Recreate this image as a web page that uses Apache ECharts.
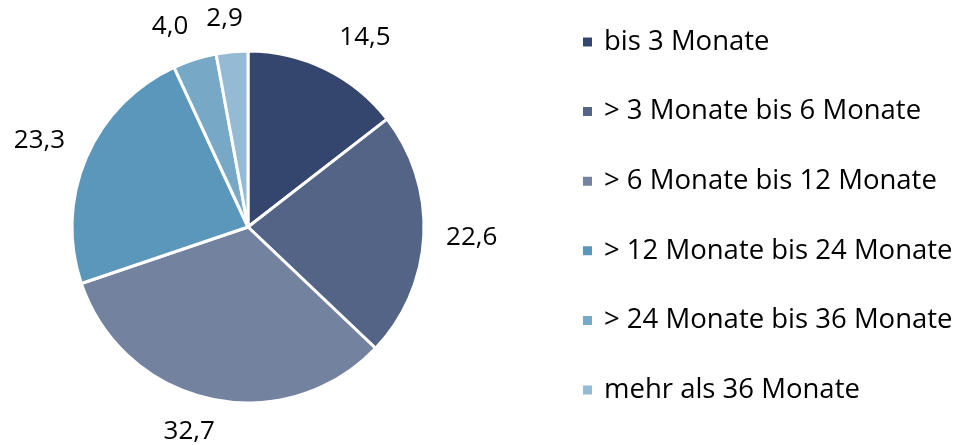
<!DOCTYPE html>
<html>
<head>
    <meta charset="UTF-8">
    <title>pie</title>
    <script src="https://cdn.jsdelivr.net/npm/echarts@6/dist/echarts.min.js"></script>
    <style>
        *{margin:0;padding:0}
        html,body{width:100%;height:100%;background:#fff}
        #main{width:972px;height:445px}
    </style>
</head>
<body>
    <div id="main"></div>
    <script type="text/javascript">
        var categories = ['bis 3 Monate', '> 3 Monate bis 6 Monate', '> 6 Monate bis 12 Monate',
            '> 12 Monate bis 24 Monate', '> 24 Monate bis 36 Monate', 'mehr als 36 Monate'];
        var values = [14.5, 22.6, 32.7, 23.3, 4.0, 2.9];
        var colors = ['#34466e', '#536487', '#73839f', '#5b97ba', '#77a8c6', '#94bbd3'];

        var dataList = categories.map(function (name, i) {
            return {name: name, value: values[i], itemStyle: {color: colors[i]}};
        });

        var cx = 248, cy = 227, r = 176;
        var total = values.reduce(function (a, b) { return a + b; }, 0);

        // Excel-artige Platzierung: Label ausserhalb, Box-Ecke am Kreis
        function placeLabel(params) {
            var before = 0;
            for (var i = 0; i < params.dataIndex; i++) before += values[i];
            var mid = (before + values[params.dataIndex] / 2) / total * Math.PI * 2;
            var dx = Math.sin(mid), dy = -Math.cos(mid);
            var tw = params.text.length * 13;   // Breite der Zahl (ca. 13px je Zeichen)
            var w = tw + 14, h = 36;
            var clamp = function (v) { return Math.max(-1, Math.min(1, v)); };
            var g = 15;
            return {
                x: cx + dx * (r + g) + clamp(dx * 2.5) * w / 2,
                y: cy + dy * (r + g) + clamp(dy * 1.5) * h / 2,
                align: 'center',
                verticalAlign: 'middle',
                width: 120
            };
        }

        var myChart = echarts.init(document.getElementById('main'));
        var option = {
            textStyle: {fontFamily: 'Open Sans'},
            legend: {
                orient: 'vertical',
                left: 581,
                top: 27,
                padding: 0,
                itemWidth: 11,
                itemHeight: 11,
                itemGap: 39.6,
                icon: 'rect',
                textStyle: {fontSize: 27.5, color: '#000', lineHeight: 30, padding: [0, 0, 0, 6]},
                data: categories
            },
            series: [{
                type: 'pie',
                center: [cx, cy],
                radius: r,
                startAngle: 90,
                clockwise: true,
                animation: false,
                itemStyle: {borderColor: '#fff', borderWidth: 3},
                label: {
                    show: true,
                    position: 'outside',
                    fontSize: 26,
                    lineHeight: 30,
                    color: '#000',
                    overflow: 'none',
                    formatter: function (p) { return p.value.toFixed(1).replace('.', ','); }
                },
                labelLine: {show: false},
                labelLayout: placeLabel,
                emphasis: {disabled: true},
                data: dataList
            }]
        };
        myChart.setOption(option);
    </script>
</body>
</html>
